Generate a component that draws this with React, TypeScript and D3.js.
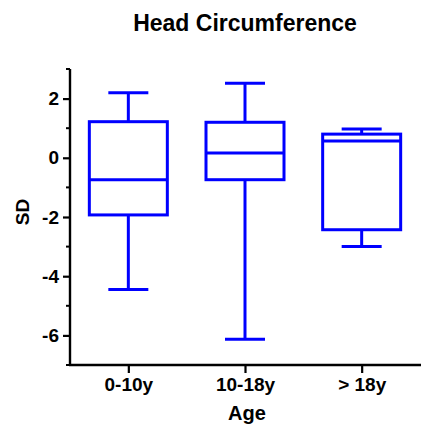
import React, { useEffect, useRef } from "react";
import * as d3 from "d3";

// age groups and the box stats
const groups = ["0-10y", "10-18y", "> 18y"];
const mins = [-4.45, -6.13, -3.0];
const q1s = [-1.93, -0.74, -2.43];
const medians = [-0.74, 0.16, 0.57];
const q3s = [1.22, 1.2, 0.8];
const maxs = [2.2, 2.52, 0.97];

const yTicks = [2, 0, -2, -4, -6];
const yMinor = [3, 1, -1, -3, -5, -7];

const W = 421;
const H = 432;
const FONT = "'Liberation Sans', Arial, sans-serif";
const BLUE = "#0000ff";

const App = () => {
  const ref = useRef<SVGSVGElement>(null);

  useEffect(() => {
    const svg = d3.select(ref.current);
    svg.selectAll("*").remove();

    const x = d3.scalePoint<string>().domain(groups).range([70, 420]).padding(0.5);
    const y = d3.scaleLinear().domain([-7, 3]).range([365, 69]);

    const boxW = 78;
    const capW = 40;

    // y axis, hyphen minus like the original
    const yAxis = svg.append("g").attr("transform", "translate(70,0)");
    yAxis.call(
      d3.axisLeft(y).tickValues(yTicks).tickSize(7).tickPadding(4).tickFormat((d) => String(d))
    );
    yAxis.append("g")
      .selectAll("line")
      .data(yMinor)
      .join("line")
      .attr("x1", -4)
      .attr("x2", 0)
      .attr("y1", (d) => y(d))
      .attr("y2", (d) => y(d))
      .attr("stroke", "#000")
      .attr("stroke-width", 2);
    yAxis.select(".domain").attr("d", `M0,${y(3)}V${y(-7)}`);

    // x axis
    const xAxis = svg.append("g").attr("transform", "translate(0,365)");
    xAxis.call(d3.axisBottom(x).tickSize(8).tickPadding(5));
    xAxis.select(".domain").attr("d", `M69,0H421`);

    svg.selectAll(".domain").attr("stroke", "#000").attr("stroke-width", 2.4);
    svg.selectAll(".tick line").attr("stroke", "#000").attr("stroke-width", 2.2);
    svg.selectAll(".tick text")
      .attr("font-family", FONT)
      .attr("font-weight", "bold")
      .attr("font-size", 19)
      .attr("fill", "#000");

    // boxes
    const g = svg.append("g")
      .attr("fill", "none")
      .attr("stroke", BLUE)
      .attr("stroke-width", 3);

    groups.forEach((grp, i) => {
      const cx = x(grp) as number;
      // whiskers
      g.append("line").attr("x1", cx).attr("x2", cx).attr("y1", y(maxs[i])).attr("y2", y(q3s[i]));
      g.append("line").attr("x1", cx).attr("x2", cx).attr("y1", y(q1s[i])).attr("y2", y(mins[i]));
      g.append("line").attr("x1", cx - capW / 2).attr("x2", cx + capW / 2).attr("y1", y(maxs[i])).attr("y2", y(maxs[i]));
      g.append("line").attr("x1", cx - capW / 2).attr("x2", cx + capW / 2).attr("y1", y(mins[i])).attr("y2", y(mins[i]));
      // box
      g.append("rect")
        .attr("x", cx - boxW / 2)
        .attr("y", y(q3s[i]))
        .attr("width", boxW)
        .attr("height", y(q1s[i]) - y(q3s[i]));
      g.append("line").attr("x1", cx - boxW / 2).attr("x2", cx + boxW / 2).attr("y1", y(medians[i])).attr("y2", y(medians[i]));
    });

    // titles
    svg.append("text")
      .attr("x", 245)
      .attr("y", 31)
      .attr("text-anchor", "middle")
      .attr("font-family", FONT)
      .attr("font-weight", "bold")
      .attr("font-size", 23)
      .text("Head Circumference");

    svg.append("text")
      .attr("x", 247)
      .attr("y", 420)
      .attr("text-anchor", "middle")
      .attr("font-family", FONT)
      .attr("font-weight", "bold")
      .attr("font-size", 20)
      .text("Age");

    svg.append("text")
      .attr("transform", "translate(29,212) rotate(-90)")
      .attr("text-anchor", "middle")
      .attr("font-family", FONT)
      .attr("font-weight", "bold")
      .attr("font-size", 19)
      .text("SD");
  }, []);

  return (
    <svg
      ref={ref}
      width={W}
      height={H}
      style={{ position: "absolute", left: 0, top: 0, background: "#fff" }}
    />
  );
};

export default App;
